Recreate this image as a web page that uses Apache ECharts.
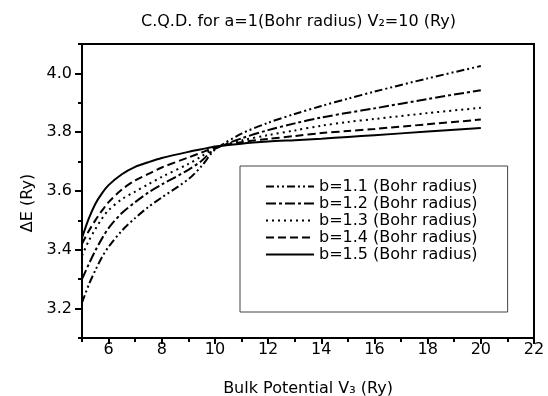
<!DOCTYPE html>
<html lang="en">
<head>
    <meta charset="UTF-8">
    <title>C.Q.D.</title>
    <script src="https://cdn.jsdelivr.net/npm/echarts@6.0.0/dist/echarts.min.js"></script>
    <style>
        html, body { margin: 0; padding: 0; background: #fff; }
        #main { width: 548px; height: 396px; }
    </style>
</head>
<body>
<div id="main"></div>
<script>
    // bulk potential V3 (Ry)
    var xVals = [5, 5.25, 5.5, 5.75, 6, 6.5, 7, 7.5, 8, 9, 9.5, 10, 11, 12, 13, 14, 15, 16, 18, 20];
    // delta E (Ry) for each b
    var b11 = [3.22, 3.28, 3.33, 3.375, 3.41, 3.465, 3.508, 3.546, 3.578, 3.64, 3.685, 3.74, 3.795, 3.832, 3.862, 3.889, 3.914, 3.938, 3.983, 4.025];
    var b12 = [3.30, 3.35, 3.397, 3.438, 3.474, 3.525, 3.562, 3.595, 3.622, 3.672, 3.703, 3.743, 3.779, 3.807, 3.830, 3.850, 3.866, 3.881, 3.913, 3.943];
    var b13 = [3.38, 3.43, 3.47, 3.506, 3.535, 3.572, 3.598, 3.623, 3.648, 3.692, 3.718, 3.746, 3.772, 3.790, 3.806, 3.822, 3.835, 3.845, 3.865, 3.883];
    var b14 = [3.42, 3.463, 3.50, 3.533, 3.562, 3.605, 3.636, 3.658, 3.68, 3.714, 3.731, 3.748, 3.766, 3.777, 3.787, 3.797, 3.804, 3.811, 3.827, 3.843];
    var b15 = [3.44, 3.505, 3.556, 3.592, 3.62, 3.657, 3.682, 3.698, 3.712, 3.733, 3.742, 3.751, 3.761, 3.768, 3.773, 3.778, 3.784, 3.790, 3.802, 3.814];

    var names = ['b=1.1 (Bohr radius)', 'b=1.2 (Bohr radius)', 'b=1.3 (Bohr radius)',
        'b=1.4 (Bohr radius)', 'b=1.5 (Bohr radius)'];
    var dashes = [[8, 3, 2, 3, 2, 3], [10, 3, 3, 3], [2, 4], [8, 4], 'solid'];

    var xMajor = [6, 8, 10, 12, 14, 16, 18, 20, 22];
    var xMinor = [5, 7, 9, 11, 13, 15, 17, 19, 21];
    var yMajor = [3.2, 3.4, 3.6, 3.8, 4.0];
    var yMinor = [3.1, 3.3, 3.5, 3.7, 3.9, 4.1];

    var font = 'DejaVu Sans';

    function pairs(ys) {
        var out = [];
        for (var i = 0; i < xVals.length; i++) out.push([xVals[i], ys[i]]);
        return out;
    }

    var allData = [b11, b12, b13, b14, b15];
    var series = [];
    for (var i = 0; i < allData.length; i++) {
        series.push({
            name: names[i],
            type: 'line',
            data: pairs(allData[i]),
            symbol: 'none',
            smooth: 0.3,
            lineStyle: { color: '#000', width: 2, type: dashes[i] },
            itemStyle: { color: '#000' }
        });
    }

    var myChart = echarts.init(document.getElementById('main'));
    myChart.setOption({
        animation: false,
        backgroundColor: '#fff',
        title: {
            text: 'C.Q.D. for a=1(Bohr radius) V₂=10 (Ry)',
            left: 141,
            top: 14,
            padding: 0,
            textStyle: { fontFamily: font, fontSize: 16, fontWeight: 'normal', color: '#000' }
        },
        grid: {
            left: 82, right: 14, top: 44, bottom: 58,
            containLabel: false,
            outerBoundsMode: 'none',
            show: true,
            borderColor: '#000',
            borderWidth: 2
        },
        legend: {
            orient: 'vertical',
            left: 240,
            top: 166,
            padding: [12, 30, 49, 25],
            itemWidth: 48,
            itemHeight: 12,
            itemGap: 0,
            borderColor: '#444',
            borderWidth: 1,
            itemStyle: { opacity: 0 },
            data: names,
            textStyle: { fontFamily: font, fontSize: 16, color: '#000', lineHeight: 17 }
        },
        xAxis: [{
            type: 'value',
            min: 5,
            max: 22,
            position: 'bottom',
            name: 'Bulk Potential V₃ (Ry)',
            nameLocation: 'middle',
            nameGap: 43,
            nameTextStyle: { fontFamily: font, fontSize: 16, color: '#000' },
            axisLine: { lineStyle: { color: '#000', width: 2 } },
            axisTick: { length: 6, customValues: xMajor, lineStyle: { color: '#000', width: 2 } },
            axisLabel: { customValues: xMajor, margin: 4, fontFamily: font, fontSize: 16, color: '#000' },
            splitLine: { show: false }
        }, {
            type: 'value',
            min: 5,
            max: 22,
            position: 'bottom',
            axisLine: { show: false },
            axisTick: { length: 4, customValues: xMinor, lineStyle: { color: '#000', width: 2 } },
            axisLabel: { show: false },
            splitLine: { show: false }
        }],
        yAxis: [{
            type: 'value',
            min: 3.1,
            max: 4.1,
            position: 'left',
            name: 'ΔE (Ry)',
            nameLocation: 'middle',
            nameGap: 46,
            nameTextStyle: { fontFamily: font, fontSize: 16, color: '#000', padding: [0, 24, 0, 0] },
            axisLine: { lineStyle: { color: '#000', width: 2 } },
            axisTick: { length: 7, customValues: yMajor, lineStyle: { color: '#000', width: 2 } },
            axisLabel: {
                customValues: yMajor, margin: 10, fontFamily: font, fontSize: 16, color: '#000',
                formatter: function (v) { return v.toFixed(1); }
            },
            splitLine: { show: false }
        }, {
            type: 'value',
            min: 3.1,
            max: 4.1,
            position: 'left',
            axisLine: { show: false },
            axisTick: { length: 4, customValues: yMinor, lineStyle: { color: '#000', width: 2 } },
            axisLabel: { show: false },
            splitLine: { show: false }
        }],
        series: series
    });
</script>
</body>
</html>
